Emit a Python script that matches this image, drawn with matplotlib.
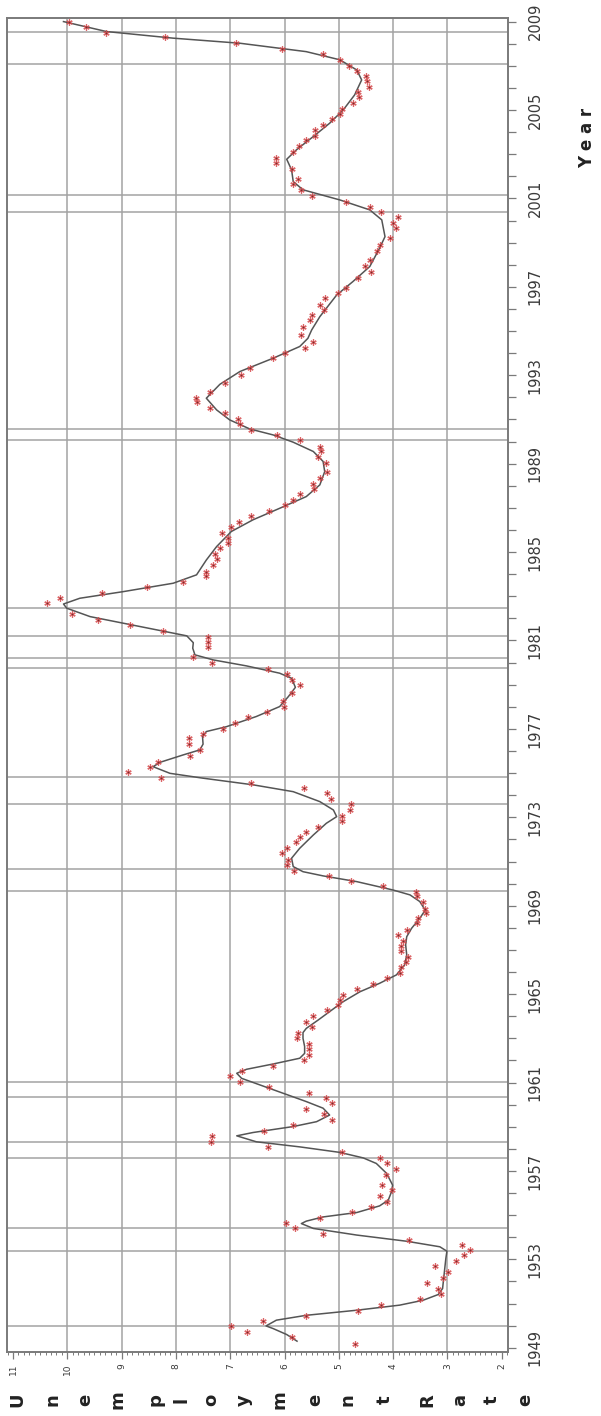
import matplotlib
matplotlib.use("Agg")
import matplotlib.pyplot as plt
from matplotlib.ticker import MultipleLocator, FixedLocator

# observed quarterly unemployment rate (year, rate)
obs_year = [
    1949.19, 1949.49, 1949.72, 1949.98, 1950.22, 1950.45, 1950.67, 1950.93,
    1951.20, 1951.43, 1951.68, 1951.94, 1952.17, 1952.44, 1952.69, 1952.92,
    1953.19, 1953.42, 1953.67, 1953.87, 1954.13, 1954.40, 1954.65, 1954.89,
    1955.15, 1955.38, 1955.60, 1955.86, 1956.13, 1956.36, 1956.84, 1957.11,
    1957.34, 1957.59, 1957.84, 1958.09, 1958.32, 1958.58, 1958.82, 1959.08,
    1959.31, 1959.58, 1959.79, 1960.06, 1960.29, 1960.54, 1960.82, 1961.04,
    1961.30, 1961.53, 1961.77, 1962.02, 1962.25, 1962.51, 1962.75, 1963.00,
    1963.23, 1963.53, 1963.76, 1964.01, 1964.26, 1964.51, 1964.74, 1964.96,
    1965.22, 1965.46, 1965.72, 1965.94, 1966.22, 1966.44, 1966.70, 1966.97,
    1967.18, 1967.42, 1967.68, 1967.90, 1968.21, 1968.43, 1968.66, 1968.86,
    1969.16, 1969.44, 1969.64, 1969.90, 1970.12, 1970.35, 1970.59, 1970.84,
    1971.07, 1971.37, 1971.63, 1971.90, 1972.13, 1972.35, 1972.58, 1972.84,
    1973.08, 1973.33, 1973.59, 1973.83, 1974.09, 1974.31, 1974.54, 1974.77,
    1975.04, 1975.29, 1975.52, 1975.79, 1976.05, 1976.31, 1976.58, 1976.77,
    1977.00, 1977.26, 1977.53, 1977.75, 1978.01, 1978.24, 1978.61, 1978.99,
    1979.22, 1979.49, 1979.70, 1979.97, 1980.24, 1980.69, 1980.95, 1981.18,
    1981.45, 1981.70, 1981.93, 1982.20, 1982.68, 1982.94, 1983.17, 1983.44,
    1983.63, 1983.92, 1984.12, 1984.42, 1984.67, 1984.90, 1985.17, 1985.40,
    1985.63, 1985.88, 1986.15, 1986.38, 1986.64, 1986.88, 1987.13, 1987.36,
    1987.62, 1987.84, 1988.08, 1988.34, 1988.64, 1989.02, 1989.32, 1989.58,
    1989.77, 1990.07, 1990.30, 1990.53, 1990.78, 1991.02, 1991.28, 1991.54,
    1991.81, 1991.96, 1992.26, 1992.64, 1993.02, 1993.32, 1993.77, 1994.00,
    1994.22, 1994.49, 1994.83, 1995.20, 1995.50, 1995.73, 1995.96, 1996.18,
    1996.48, 1996.71, 1996.94, 1997.39, 1997.69, 1997.92, 1998.22, 1998.60,
    1998.90, 1999.20, 1999.65, 1999.88, 2000.15, 2000.40, 2000.63, 2000.86,
    2001.11, 2001.39, 2001.66, 2001.87, 2002.32, 2002.62, 2002.82, 2003.08,
    2003.35, 2003.62, 2003.83, 2004.10, 2004.33, 2004.58, 2004.82, 2005.03,
    2005.31, 2005.58, 2005.83, 2006.06, 2006.33, 2006.54, 2006.77, 2007.01,
    2007.27, 2007.52, 2007.75, 2008.02, 2008.28, 2008.50, 2008.75, 2009.00,
]
obs_rate = [
    4.71, 5.87, 6.70, 6.98, 6.40, 5.60, 4.64, 4.23,
    3.51, 3.11, 3.17, 3.37, 3.08, 2.99, 3.23, 2.85,
    2.70, 2.58, 2.74, 3.71, 5.29, 5.81, 5.98, 5.34,
    4.75, 4.40, 4.11, 4.25, 4.03, 4.21, 4.13, 3.94,
    4.11, 4.25, 4.95, 6.30, 7.36, 7.34, 6.38, 5.84,
    5.12, 5.28, 5.61, 5.13, 5.24, 5.55, 6.28, 6.82,
    7.01, 6.79, 6.21, 5.64, 5.55, 5.55, 5.55, 5.77,
    5.75, 5.50, 5.60, 5.47, 5.21, 5.01, 4.98, 4.92,
    4.67, 4.37, 4.11, 3.88, 3.85, 3.77, 3.72, 3.85,
    3.85, 3.82, 3.91, 3.75, 3.57, 3.54, 3.40, 3.42,
    3.45, 3.57, 3.58, 4.18, 4.77, 5.18, 5.83, 5.96,
    5.93, 6.04, 5.96, 5.78, 5.72, 5.60, 5.38, 4.95,
    4.95, 4.80, 4.77, 5.15, 5.21, 5.64, 6.61, 8.28,
    8.88, 8.48, 8.33, 7.74, 7.56, 7.75, 7.75, 7.51,
    7.14, 6.91, 6.67, 6.33, 6.01, 6.02, 5.87, 5.72,
    5.87, 5.96, 6.30, 7.34, 7.68, 7.40, 7.40, 7.40,
    8.23, 8.85, 9.43, 9.92, 10.38, 10.13, 9.37, 8.54,
    7.87, 7.44, 7.44, 7.31, 7.25, 7.28, 7.19, 7.04,
    7.04, 7.16, 6.98, 6.83, 6.61, 6.28, 5.99, 5.84,
    5.71, 5.46, 5.47, 5.35, 5.22, 5.24, 5.38, 5.32,
    5.34, 5.71, 6.13, 6.61, 6.82, 6.85, 7.10, 7.37,
    7.62, 7.63, 7.37, 7.10, 6.81, 6.63, 6.21, 5.99,
    5.63, 5.47, 5.69, 5.66, 5.53, 5.50, 5.28, 5.35,
    5.26, 5.01, 4.87, 4.64, 4.40, 4.52, 4.43, 4.30,
    4.25, 4.06, 3.95, 4.00, 3.91, 4.23, 4.42, 4.86,
    5.50, 5.69, 5.84, 5.75, 5.87, 6.15, 6.15, 5.84,
    5.73, 5.60, 5.44, 5.44, 5.30, 5.12, 4.97, 4.95,
    4.74, 4.63, 4.64, 4.44, 4.48, 4.50, 4.66, 4.81,
    4.98, 5.30, 6.04, 6.90, 8.20, 9.28, 9.66, 9.96,
]

# smoothed fit curve
fit_year = [
    1949.30, 1949.60, 1949.87, 1949.99, 1950.25, 1950.47, 1950.70, 1950.93,
    1951.15, 1951.41, 1951.68, 1952.13, 1952.59, 1953.04, 1953.37, 1953.57,
    1953.82, 1954.10, 1954.40, 1954.62, 1954.73, 1954.92, 1955.12, 1955.42,
    1955.68, 1956.06, 1956.36, 1956.89, 1957.34, 1957.59, 1957.84, 1958.09,
    1958.32, 1958.59, 1958.74, 1959.01, 1959.23, 1959.53, 1959.84, 1960.14,
    1960.51, 1960.89, 1961.19, 1961.42, 1961.60, 1961.84, 1962.10, 1962.32,
    1962.63, 1963.00, 1963.26, 1963.45, 1963.83, 1964.21, 1964.66, 1965.11,
    1965.49, 1965.87, 1966.32, 1966.77, 1967.23, 1967.60, 1967.98, 1968.43,
    1968.80, 1969.19, 1969.49, 1969.71, 1970.09, 1970.35, 1970.54, 1970.77,
    1971.15, 1971.60, 1972.20, 1972.73, 1973.03, 1973.33, 1973.71, 1974.16,
    1974.47, 1974.77, 1974.99, 1975.29, 1975.49, 1975.82, 1976.05, 1976.31,
    1976.65, 1976.88, 1977.10, 1977.56, 1978.01, 1978.46, 1978.88, 1979.29,
    1979.52, 1979.85, 1980.12, 1980.35, 1980.65, 1980.90, 1981.21, 1981.63,
    1982.08, 1982.46, 1982.65, 1982.91, 1983.21, 1983.59, 1983.97, 1984.64,
    1985.25, 1985.93, 1986.46, 1986.98, 1987.51, 1988.04, 1988.64, 1989.10,
    1989.55, 1989.97, 1990.30, 1990.57, 1990.98, 1991.43, 1991.96, 1992.59,
    1993.17, 1993.77, 1994.30, 1994.67, 1995.05, 1995.65, 1996.63, 1997.24,
    1997.92, 1998.75, 1999.27, 2000.03, 2000.48, 2000.93, 2001.39, 2001.76,
    2002.29, 2002.77, 2003.20, 2003.80, 2004.40, 2005.00, 2005.68, 2006.36,
    2006.81, 2007.27, 2007.64, 2008.02, 2008.25, 2008.55, 2009.00,
]
fit_rate = [
    5.77, 5.96, 6.21, 6.34, 6.15, 5.60, 4.67, 3.88,
    3.45, 3.17, 3.09, 3.07, 3.05, 3.03, 3.01, 3.14,
    3.75, 4.67, 5.47, 5.69, 5.60, 5.29, 4.67, 4.25,
    4.09, 4.03, 4.01, 4.12, 4.31, 4.55, 4.98, 5.72,
    6.52, 6.88, 6.58, 5.84, 5.41, 5.17, 5.29, 5.60,
    6.02, 6.45, 6.79, 6.88, 6.70, 6.21, 5.72, 5.63,
    5.63, 5.66, 5.66, 5.60, 5.38, 5.17, 4.92, 4.61,
    4.25, 3.94, 3.79, 3.75, 3.77, 3.75, 3.66, 3.51,
    3.41, 3.51, 3.69, 4.00, 4.67, 5.29, 5.66, 5.84,
    5.87, 5.72, 5.47, 5.23, 5.04, 5.10, 5.35, 5.84,
    6.58, 7.50, 8.11, 8.42, 8.29, 7.87, 7.56, 7.50,
    7.51, 7.44, 7.07, 6.52, 6.09, 5.93, 5.80, 5.87,
    6.09, 6.70, 7.31, 7.65, 7.69, 7.68, 7.80, 8.66,
    9.58, 10.01, 10.07, 9.77, 8.97, 8.05, 7.62, 7.44,
    7.25, 6.98, 6.58, 6.09, 5.60, 5.35, 5.26, 5.29,
    5.47, 5.84, 6.21, 6.64, 7.01, 7.25, 7.44, 7.19,
    6.82, 6.21, 5.72, 5.57, 5.50, 5.35, 5.04, 4.74,
    4.43, 4.25, 4.15, 4.21, 4.43, 4.98, 5.66, 5.84,
    5.87, 5.96, 5.78, 5.47, 5.17, 4.92, 4.71, 4.58,
    4.67, 4.98, 5.60, 6.82, 8.05, 9.28, 10.07,
]

# recession reference lines
ref_years = [1949.99, 1953.39, 1954.40, 1957.60, 1958.32, 1960.33, 1961.04,
             1969.67, 1970.65, 1973.60, 1974.81, 1979.74, 1980.22, 1981.22,
             1982.46, 1990.07, 1990.57, 2000.40, 2001.17, 2007.06, 2008.55]

rate_ticks = [11, 10, 9, 8, 7, 6, 5, 4, 3, 2]
year_ticks = list(range(1949, 2010, 4))

grid_col = "#a3a3a3"
frame_col = "#7a7a7a"
text_col = "#3a3a3a"

fig = plt.figure(figsize=(6.01, 14.16), dpi=100)
ax = fig.add_axes([0.01165, 0.0452, 0.8341, 0.9419])

for r in range(3, 11):
    ax.axvline(r, color=grid_col, lw=1.1, zorder=1)
for y in ref_years:
    ax.axhline(y, color=grid_col, lw=1.1, zorder=1)

ax.plot(fit_rate, fit_year, color="#555555", lw=1.1, zorder=3)
# red asterisk with a small dark centre, like the original markers
ax.plot(obs_rate, obs_year, linestyle="none", marker=(6, 2, 0), markersize=4.5,
        markeredgewidth=0.9, color="#d64a4c", alpha=0.85, zorder=4)
ax.plot(obs_rate, obs_year, linestyle="none", marker="o", markersize=1.3,
        markeredgewidth=0, color="#7a2a2a", zorder=5)

ax.set_xlim(11.11, 1.88)
ax.set_ylim(1948.81, 2009.15)

for s in ax.spines.values():
    s.set_color(frame_col)
    s.set_linewidth(1.4)

ax.xaxis.set_major_locator(FixedLocator(rate_ticks))
ax.xaxis.set_minor_locator(MultipleLocator(0.1))
ax.set_xticklabels([str(t) for t in rate_ticks], rotation=90, fontsize=6.5,
                   color=text_col)
ax.tick_params(axis="x", which="major", direction="out", length=5, width=0.9,
               color=frame_col, pad=3)
ax.tick_params(axis="x", which="minor", direction="out", length=2, width=0.7,
               color=frame_col)

ax.yaxis.tick_right()
ax.yaxis.set_major_locator(FixedLocator(year_ticks))
ax.yaxis.set_minor_locator(MultipleLocator(1))
ax.set_yticklabels([str(t) for t in year_ticks], rotation=90, va="center",
                   fontsize=10.5, color=text_col)
ax.tick_params(axis="y", which="both", direction="out", length=6, width=0.9,
               color=frame_col, pad=8)

fig.text(587 / 601, 1 - 138 / 1416, "Y e a r", rotation=90, fontsize=12,
         fontweight="bold", color="#222222", ha="center", va="center")

letters = ["U", "n", "e", "m", "p", "l", "o", "y", "m", "e", "n", "t",
           "R", "a", "t", "e"]
letter_x = [17, 52, 85, 118, 156, 181, 211, 244, 279, 315, 348, 385,
            427, 460, 492, 525]
for ch, lx in zip(letters, letter_x):
    fig.text(lx / 601, 1 - 1400 / 1416, ch, rotation=90, fontsize=13,
             fontweight="bold", color="#222222", ha="center", va="center")

fig.savefig("out.png", dpi=100, facecolor="white")
